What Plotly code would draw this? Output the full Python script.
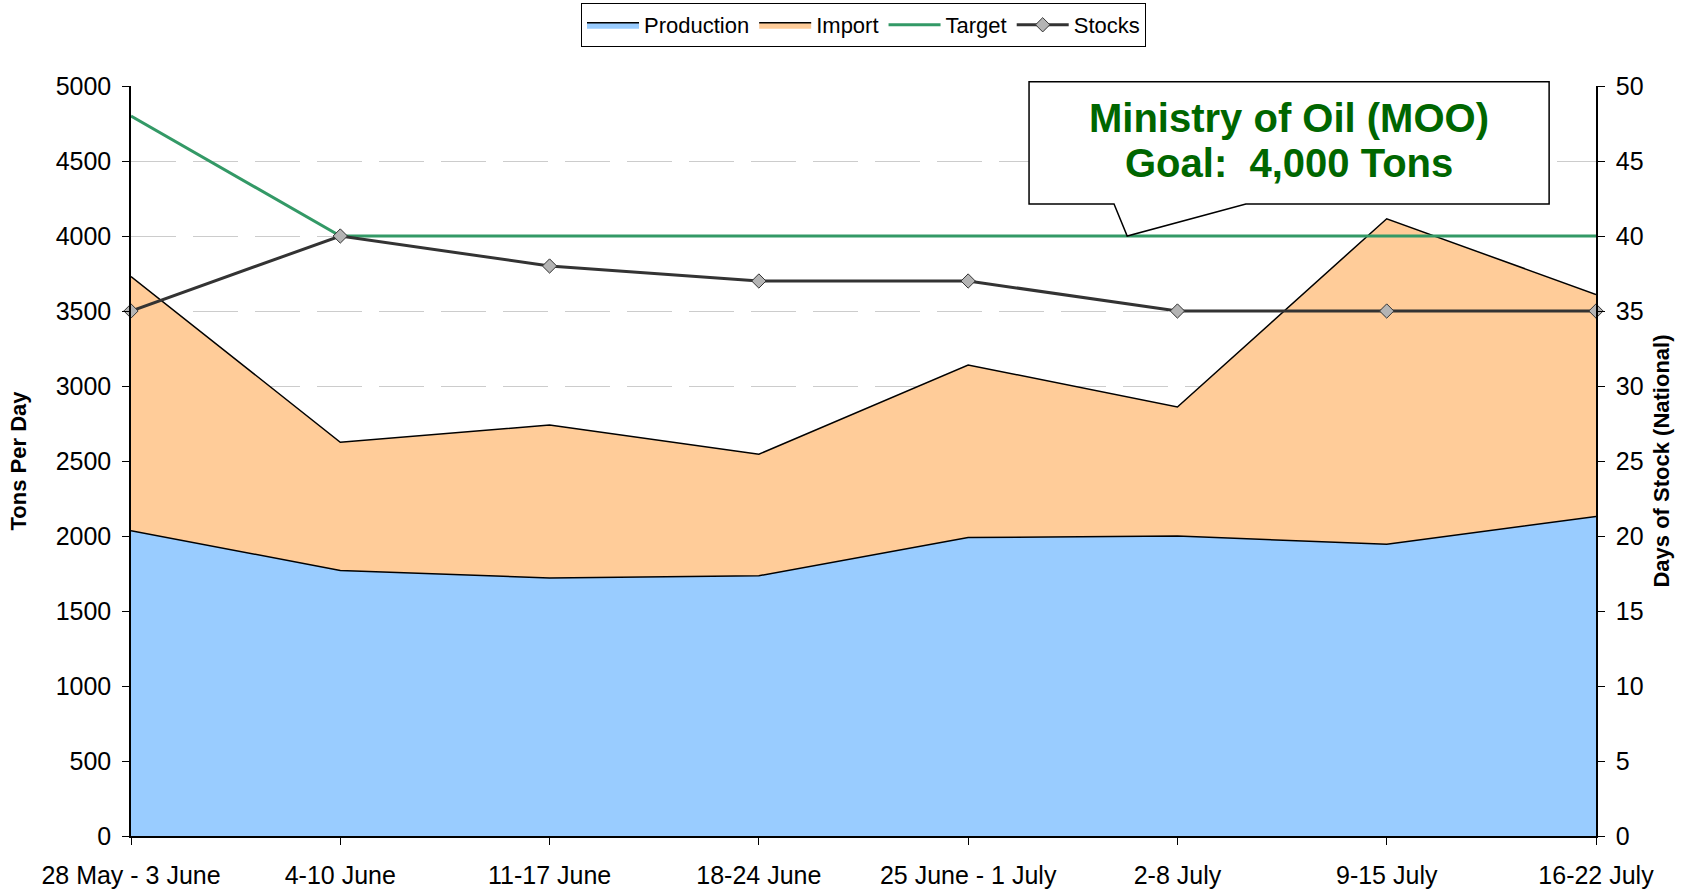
import plotly.graph_objects as go

categories = ["28 May - 3 June", "4-10 June", "11-17 June", "18-24 June",
              "25 June - 1 July", "2-8 July", "9-15 July", "16-22 July"]
production = [2035, 1770, 1720, 1735, 1990, 2000, 1945, 2130]
imports = [1695, 855, 1020, 810, 1150, 860, 2170, 1480]
target = [4800, 4000, 4000, 4000, 4000, 4000, 4000, 4000]
stocks = [35, 40, 38, 37, 37, 35, 35, 35]
left_ticks = list(range(0, 5001, 500))
right_ticks = list(range(0, 51, 5))

x = list(range(len(categories)))
FONT = "Liberation Sans, Arial, sans-serif"

fig = go.Figure()
fig.add_trace(go.Scatter(x=x, y=production, name="Production", stackgroup="one",
                         mode="lines", line=dict(color="black", width=1.5),
                         fillcolor="#99CCFF"))
fig.add_trace(go.Scatter(x=x, y=imports, name="Import", stackgroup="one",
                         mode="lines", line=dict(color="black", width=1.5),
                         fillcolor="#FFCC99"))
fig.add_trace(go.Scatter(x=x, y=target, name="Target", mode="lines",
                         line=dict(color="#339966", width=3)))
fig.add_trace(go.Scatter(x=x, y=stocks, name="Stocks", yaxis="y2",
                         mode="lines+markers", cliponaxis=False,
                         line=dict(color="#333333", width=3),
                         marker=dict(symbol="diamond", size=11, color="#B4B4B4",
                                     line=dict(color="#333333", width=1))))

# callout box
path = ("M 0.613,1.0057 L 0.968,1.0057 L 0.968,0.8427 L 0.761,0.8427 "
        "L 0.680,0.8 L 0.671,0.8427 L 0.613,0.8427 Z")
fig.add_shape(type="path", path=path, xref="paper", yref="paper",
              fillcolor="white", line=dict(color="black", width=1.5), layer="above")
for txt, yy in [("<b>Ministry of Oil (MOO)</b>", 0.958),
                ("<b>Goal:&nbsp; 4,000 Tons</b>", 0.897)]:
    fig.add_annotation(x=0.7905, y=yy, xref="paper", yref="paper", text=txt,
                       showarrow=False, font=dict(family=FONT, size=40, color="#006600"),
                       xanchor="center", yanchor="middle")

fig.update_layout(
    width=1684, height=893, autosize=False,
    margin=dict(l=131, r=88, t=86, b=57, autoexpand=False),
    paper_bgcolor="white", plot_bgcolor="white",
    font=dict(family=FONT, color="black", size=22),
    showlegend=True,
    legend=dict(orientation="h", x=0.5, xanchor="center", y=1.1107, yanchor="top",
                bordercolor="black", borderwidth=1, font=dict(size=22),
                itemwidth=52, traceorder="normal", tracegroupgap=0),
    xaxis=dict(range=[0, 7], tickvals=x, ticktext=categories, showgrid=False,
               showline=True, linecolor="black", linewidth=1.5, ticks="outside",
               ticklen=7, tickcolor="black", zeroline=False, ticklabelstandoff=9,
               tickfont=dict(size=25)),
    yaxis=dict(range=[0, 5000], tickvals=left_ticks, showgrid=True,
               gridcolor="#CCCCCC", griddash="45px,17px", gridwidth=1,
               showline=True, linecolor="black", linewidth=1.5, ticks="outside",
               ticklen=7, tickcolor="black", zeroline=False, ticklabelstandoff=6,
               tickfont=dict(size=25),
               title=dict(text="<b>Tons Per Day</b>", font=dict(size=22), standoff=23)),
    yaxis2=dict(range=[0, 50], tickvals=right_ticks, overlaying="y", side="right",
                showgrid=False, showline=True, linecolor="black", linewidth=1.5,
                ticks="outside", ticklen=7, tickcolor="black", zeroline=False,
                ticklabelstandoff=6, tickfont=dict(size=25),
                title=dict(text="<b>Days of Stock (National)</b>", font=dict(size=22),
                           standoff=11)),
)

fig.write_html("out.html", config={"displayModeBar": False},
               post_script="document.body.style.margin='0';")
